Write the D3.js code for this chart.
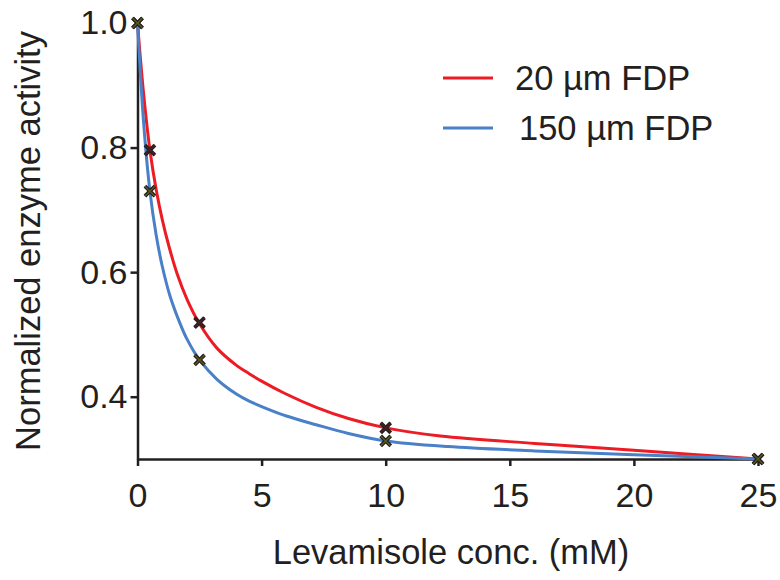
<!DOCTYPE html>
<html>
<head>
<meta charset="utf-8">
<script src="https://cdn.jsdelivr.net/npm/d3@7/dist/d3.min.js"></script>
<style>
  html, body { margin: 0; padding: 0; background: #fff; }
  svg { display: block; }
  text { font-family: "Liberation Sans", Arial, Helvetica, sans-serif; fill: #231f20; }
</style>
</head>
<body>
<svg id="chart" width="780" height="580"></svg>
<script>
// ---- data ----
const seriesNames = ["20 µm FDP", "150 µm FDP"];
const seriesColors = ["#ed1c24", "#4a80c8"];
const markerInner = ["#4a2020", "#5c5a1e"];

// measured points
const measX = [0, 0.5, 2.5, 10, 25];
const measRed = [1.0, 0.796, 0.519, 0.350, 0.30];
const measBlue = [1.0, 0.730, 0.459, 0.329, 0.30];

// fitted curves
const redCurveX = [0, 0.25, 0.5, 0.75, 1.0, 1.25, 1.6, 2.0, 2.5, 3.2, 4.0, 4.5, 5.0, 5.9, 7.2, 8.5, 10, 12.2, 16, 20, 25];
const redCurveY = [1.0, 0.885, 0.796, 0.733, 0.684, 0.644, 0.597, 0.556, 0.517, 0.478, 0.450, 0.437, 0.425, 0.406, 0.383, 0.365, 0.350, 0.337, 0.325, 0.314, 0.300];
const blueCurveX = [0, 0.25, 0.5, 0.75, 1.0, 1.3, 1.7, 2.0, 2.5, 3.2, 4.0, 4.5, 5.2, 6.0, 7.2, 8.5, 10, 12.5, 16, 20, 25];
const blueCurveY = [1.0, 0.838, 0.730, 0.660, 0.609, 0.563, 0.519, 0.492, 0.459, 0.428, 0.404, 0.393, 0.381, 0.369, 0.355, 0.341, 0.329, 0.320, 0.313, 0.307, 0.300];

const xTicks = [0, 5, 10, 15, 20, 25];
const yTicks = [0.4, 0.6, 0.8, 1.0];
const xTitle = "Levamisole conc. (mM)";
const yTitle = "Normalized enzyme activity";

// ---- layout ----
const svg = d3.select("#chart");
const x = d3.scaleLinear().domain([0, 25]).range([137.5, 758]);
const y = d3.scaleLinear().domain([0.3, 1.0]).range([459, 23]);

const axisColor = "#231f20";
const fontTick = 34;
const fontTitle = 34.5;

// x axis
const gx = svg.append("g").attr("transform", `translate(0,${y(0.3)})`)
  .call(d3.axisBottom(x).tickValues(xTicks).tickFormat(d3.format("d")).tickSize(7).tickSizeOuter(0).tickPadding(17));
gx.select(".domain").attr("stroke", axisColor).attr("stroke-width", 2.5);
gx.selectAll(".tick line").attr("stroke", axisColor).attr("stroke-width", 2.5);
gx.selectAll(".tick text").attr("font-size", fontTick).attr("fill", axisColor)
  .attr("font-family", "Liberation Sans, Arial, sans-serif");

// y axis
const gy = svg.append("g").attr("transform", `translate(${x(0)},0)`)
  .call(d3.axisLeft(y).tickValues(yTicks).tickFormat(d3.format(".1f")).tickSize(7).tickSizeOuter(0).tickPadding(3));
gy.select(".domain").attr("stroke", axisColor).attr("stroke-width", 2.5);
gy.selectAll(".tick line").attr("stroke", axisColor).attr("stroke-width", 2.5);
gy.selectAll(".tick text").attr("font-size", fontTick).attr("fill", axisColor)
  .attr("font-family", "Liberation Sans, Arial, sans-serif");
gy.selectAll(".tick").filter(d => d === 1.0).select("line").remove();

// titles
svg.append("text").attr("x", 451).attr("y", 564).attr("text-anchor", "middle")
  .attr("font-size", fontTitle).text(xTitle);
svg.append("text").attr("transform", `translate(40,241) rotate(-90)`).attr("text-anchor", "middle")
  .attr("font-size", fontTitle).text(yTitle);

// curves
const line = d3.line().x(d => x(d[0])).y(d => y(d[1])).curve(d3.curveCatmullRom.alpha(0.5));
const redPts = redCurveX.map((v, i) => [v, redCurveY[i]]);
const bluePts = blueCurveX.map((v, i) => [v, blueCurveY[i]]);
svg.append("path").attr("d", line(redPts)).attr("fill", "none")
  .attr("stroke", seriesColors[0]).attr("stroke-width", 3);
svg.append("path").attr("d", line(bluePts)).attr("fill", "none")
  .attr("stroke", seriesColors[1]).attr("stroke-width", 3);

// markers
function drawX(px, py, inner) {
  const s = 5;
  const g = svg.append("g").attr("transform", `translate(${px},${py})`);
  const p = `M${-s},${-s}L${s},${s}M${-s},${s}L${s},${-s}`;
  g.append("path").attr("d", p).attr("stroke", "#231f20").attr("stroke-width", 3.8).attr("fill", "none");
  g.append("path").attr("d", p).attr("stroke", inner).attr("stroke-width", 1.4).attr("fill", "none");
}
measX.forEach((v, i) => drawX(x(v), y(measRed[i]), markerInner[0]));
measX.forEach((v, i) => drawX(x(v), y(measBlue[i]), markerInner[1]));

// legend
const legY = [78, 128];
seriesNames.forEach((name, i) => {
  svg.append("line").attr("x1", 443).attr("x2", 493).attr("y1", legY[i]).attr("y2", legY[i])
    .attr("stroke", seriesColors[i]).attr("stroke-width", 3);
  svg.append("text").attr("x", i === 0 ? 515 : 519).attr("y", legY[i]).attr("dy", "0.36em")
    .attr("font-size", fontTitle).text(name);
});
</script>
</body>
</html>
